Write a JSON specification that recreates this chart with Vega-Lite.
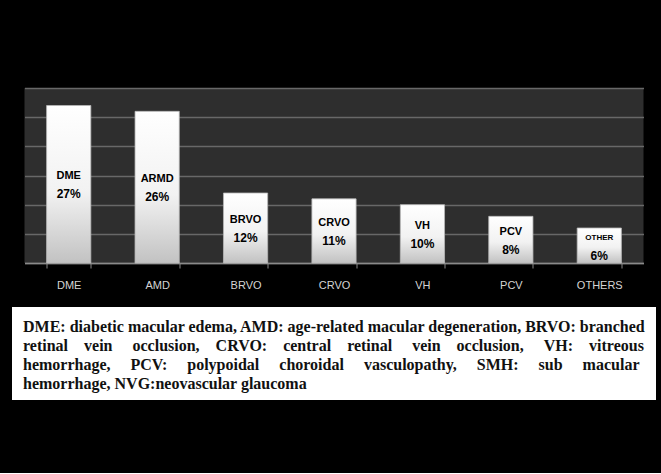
{
  "$schema": "https://vega.github.io/schema/vega-lite/v6.json",
  "background": "#000000",
  "padding": {"left": 12, "top": 88, "right": 5, "bottom": 73},
  "spacing": 17,
  "center": true,
  "config": {"view": {"stroke": null}},
  "vconcat": [
    {
      "width": 619,
      "height": 175,
      "view": {"fill": "#2e2e2e", "stroke": null},
      "data": {
        "values": [
          {"cat": "DME", "name": "DME", "label": "27%", "pct": 27},
          {"cat": "AMD", "name": "ARMD", "label": "26%", "pct": 26},
          {"cat": "BRVO", "name": "BRVO", "label": "12%", "pct": 12},
          {"cat": "CRVO", "name": "CRVO", "label": "11%", "pct": 11},
          {"cat": "VH", "name": "VH", "label": "10%", "pct": 10},
          {"cat": "PCV", "name": "PCV", "label": "8%", "pct": 8},
          {"cat": "OTHERS", "name": "OTHER", "label": "6%", "pct": 6}
        ]
      },
      "transform": [{"calculate": "datum.pct / 2", "as": "mid"}],
      "encoding": {
        "x": {
          "field": "cat",
          "type": "nominal",
          "sort": null,
          "scale": {"paddingInner": 0.5, "paddingOuter": 0.25},
          "axis": {
            "title": null,
            "labelAngle": 0,
            "labelColor": "#d4d4d4",
            "labelFont": "Liberation Sans",
            "labelFontSize": 11,
            "labelPadding": 11,
            "tickBand": "extent",
            "tickSize": 5,
            "tickColor": "#8a8a8a",
            "domainColor": "#8a8a8a",
            "domainWidth": 1.5,
            "grid": false
          }
        },
        "y": {
          "field": "pct",
          "type": "quantitative",
          "scale": {"domain": [0, 30]},
          "axis": {
            "title": null,
            "labels": false,
            "ticks": false,
            "domain": false,
            "grid": true,
            "gridColor": "#686868",
            "gridWidth": 1.5,
            "values": [0, 5, 10, 15, 20, 25, 30]
          }
        }
      },
      "layer": [
        {
          "mark": {
            "type": "bar",
            "color": {
              "gradient": "linear",
              "x1": 0, "y1": 0, "x2": 0, "y2": 1,
              "stops": [
                {"offset": 0, "color": "#ffffff"},
                {"offset": 0.55, "color": "#f2f2f2"},
                {"offset": 1, "color": "#c2c2c2"}
              ]
            },
            "stroke": "#b8b8b8",
            "strokeWidth": 0.8
          }
        },
        {
          "mark": {"type": "text", "font": "Liberation Sans", "fontWeight": "bold", "color": "#000000", "dy": -8},
          "encoding": {
            "y": {"field": "mid", "type": "quantitative"},
            "text": {"field": "name"},
            "size": {"condition": {"test": "datum.cat === 'OTHERS'", "value": 8}, "value": 11}
          }
        },
        {
          "mark": {"type": "text", "font": "Liberation Sans", "fontWeight": "bold", "color": "#000000", "fontSize": 12, "dy": 10},
          "encoding": {
            "y": {"field": "mid", "type": "quantitative"},
            "text": {"field": "label"}
          }
        }
      ]
    },
    {
      "width": 644,
      "height": 93,
      "view": {"fill": "#ffffff", "stroke": null},
      "data": {
        "values": [
          {"line": 1, "text": "DME: diabetic macular edema, AMD: age-related macular degeneration, BRVO: branched"},
          {"line": 2, "text": "retinal\u00a0\u00a0\u00a0\u00a0vein\u00a0\u00a0\u00a0\u00a0\u00a0occlusion,\u00a0\u00a0\u00a0\u00a0CRVO:\u00a0\u00a0\u00a0\u00a0central\u00a0\u00a0\u00a0\u00a0retinal\u00a0\u00a0\u00a0\u00a0\u00a0vein\u00a0\u00a0\u00a0\u00a0occlusion,\u00a0\u00a0\u00a0\u00a0\u00a0VH:\u00a0\u00a0\u00a0\u00a0vitreous"},
          {"line": 3, "text": "hemorrhage,\u00a0\u00a0\u00a0\u00a0\u00a0PCV:\u00a0\u00a0\u00a0\u00a0\u00a0polypoidal\u00a0\u00a0\u00a0\u00a0\u00a0choroidal\u00a0\u00a0\u00a0\u00a0\u00a0vasculopathy,\u00a0\u00a0\u00a0\u00a0\u00a0SMH:\u00a0\u00a0\u00a0\u00a0\u00a0sub\u00a0\u00a0\u00a0\u00a0\u00a0macular"},
          {"line": 4, "text": "hemorrhage, NVG:neovascular glaucoma"}
        ]
      },
      "mark": {"type": "text", "font": "Liberation Serif", "fontWeight": "bold", "fontSize": 16, "color": "#111111", "align": "left", "dx": 11, "dy": 2},
      "encoding": {
        "x": {"datum": 0, "type": "quantitative", "scale": {"domain": [0, 1]}, "axis": null},
        "y": {"field": "line", "type": "ordinal", "scale": {"type": "point", "padding": 0.95}, "axis": null},
        "text": {"field": "text"}
      }
    }
  ]
}
